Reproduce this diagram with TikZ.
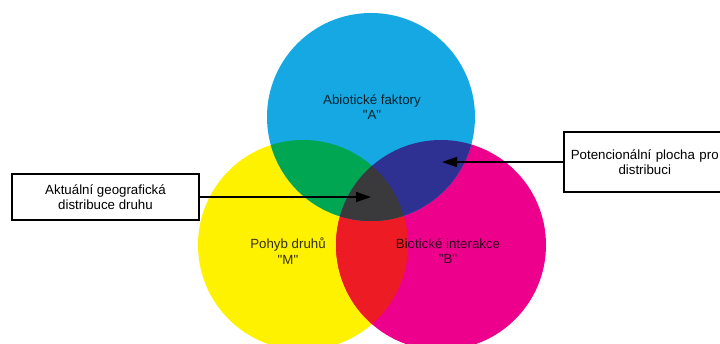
\documentclass[tikz,border=0pt]{standalone}
\usepackage{fontspec}
\setmainfont{Liberation Sans}[Ligatures=TeXOff]
\usetikzlibrary{positioning,arrows.meta}
\definecolor{azurova}{RGB}{22,168,226}
\definecolor{zluta}{RGB}{255,242,0}
\definecolor{purpurova}{RGB}{236,0,140}
\definecolor{zelena}{RGB}{0,166,81}
\definecolor{modra}{RGB}{46,49,146}
\definecolor{cervena}{RGB}{237,28,36}
\definecolor{seda}{RGB}{58,58,60}
\begin{document}
\begin{tikzpicture}[x=1pt, y=-1pt,
    every node/.style = {align=center, font=\fontsize{13.3}{15.5}\selectfont},
    popisek/.style = {text opacity=0.8},
    ramecek/.style = {draw, line width=1.5pt, inner sep=0pt, fill=white},
    sipka/.style = {-{Triangle[length=15pt,width=10pt]}, line width=1.6pt}]
\useasboundingbox (0,0) rectangle (720,343);
\coordinate (A) at (371,117);
\coordinate (M) at (303,245);
\coordinate (B) at (441,245);
\fill[zluta] (M) circle (105);
\fill[purpurova] (B) circle (105);
\fill[azurova] (A) circle (104);
\begin{scope}
  \clip (M) circle (105);
  \fill[cervena] (B) circle (105);
\end{scope}
\begin{scope}
  \clip (A) circle (104);
  \fill[zelena] (M) circle (105);
  \fill[modra] (B) circle (105);
  \clip (M) circle (105);
  \fill[seda] (B) circle (105);
\end{scope}
\node[popisek] (abio) at (372,107) {Abiotické faktory\\"A"};
\node[popisek] (pohyb) at (288,251) {Pohyb druhů\\"M"};
\node[popisek] (bio) at (448,251) {Biotické interakce\\"B"};
\node[ramecek, minimum width=187pt, minimum height=46pt] (aktualni) at (105.5,197) {Aktuální geografická\\distribuce druhu};
\node[ramecek, minimum width=162pt, minimum height=60pt, text width=158pt, anchor=west] (potencialni) at (563,162) {Potencionální plocha pro\\distribuci};
\coordinate (sedy) at (371,197);
\coordinate (modry) at (442,162);
\draw[sipka] (aktualni.east) -- (sedy);
\draw[sipka] (potencialni.west) -- (modry);
\end{tikzpicture}
\end{document}
